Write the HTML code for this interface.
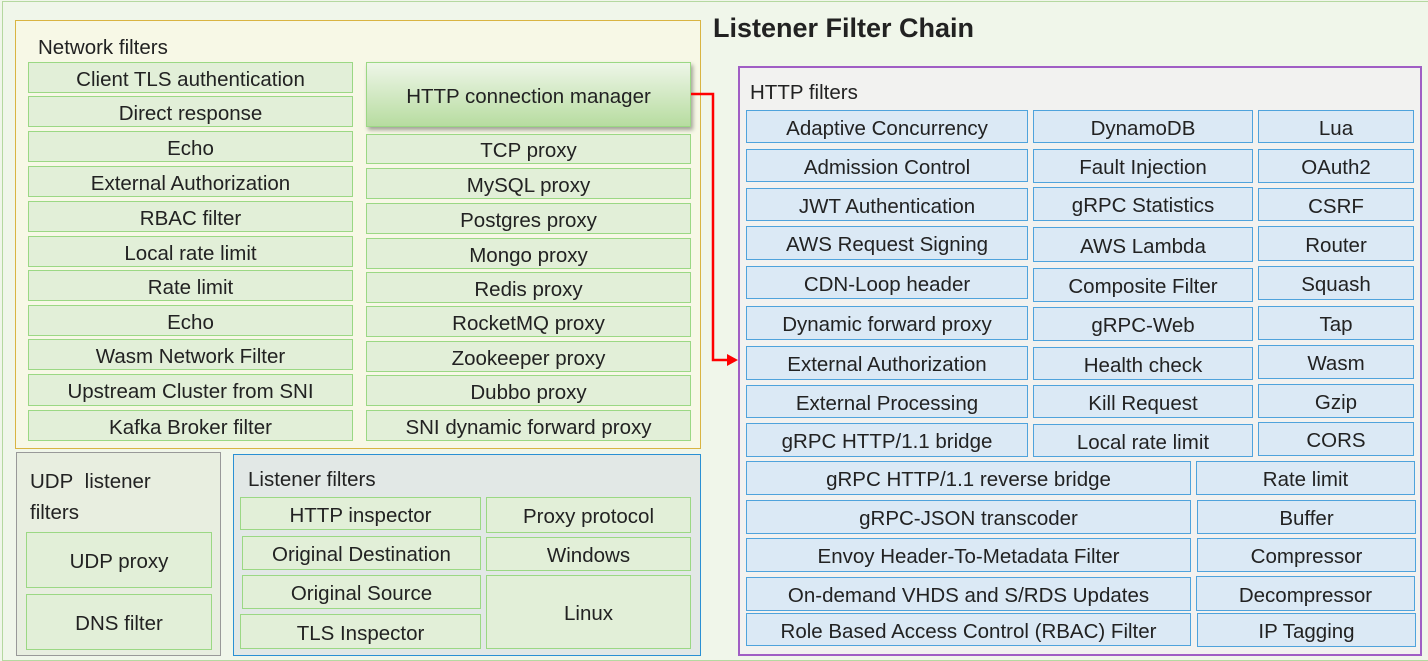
<!DOCTYPE html>
<html><head><meta charset="utf-8"><style>
*{margin:0;padding:0;box-sizing:border-box}
body{width:1428px;height:658px;background:#f0f6ea;position:relative;overflow:hidden;font-family:"Liberation Sans",sans-serif;color:#222}
.frame{position:absolute;left:2px;top:1px;width:1430px;height:660px;border:1px solid #b5d8a0}
.c{position:absolute}
.g{position:absolute;background:#e2efd8;border:1.5px solid #9bd884;display:flex;align-items:center;justify-content:center;font-size:20.5px;white-space:nowrap;padding-top:4px}
.b{position:absolute;background:#dbe9f5;border:1.5px solid #4fa3dc;display:flex;align-items:center;justify-content:center;font-size:20.5px;white-space:nowrap;padding-top:4px}
.lbl{position:absolute;font-size:20.5px;white-space:nowrap}
</style></head><body>
<div class="frame"></div>
<div class="c" style="left:15px;top:20px;width:686px;height:429px;border:1.5px solid #d9b442;background:#f7f8e6"></div>
<div class="lbl" style="left:38px;top:36px">Network filters</div>
<div class="lbl" style="left:713px;top:13px;font-size:27px;font-weight:bold">Listener Filter Chain</div>

<div class="g" style="left:28px;top:62px;width:325px;height:31px">Client TLS authentication</div>
<div class="g" style="left:28px;top:96px;width:325px;height:31px">Direct response</div>
<div class="g" style="left:28px;top:131px;width:325px;height:31px">Echo</div>
<div class="g" style="left:28px;top:166px;width:325px;height:31px">External Authorization</div>
<div class="g" style="left:28px;top:201px;width:325px;height:31px">RBAC filter</div>
<div class="g" style="left:28px;top:236px;width:325px;height:31px">Local rate limit</div>
<div class="g" style="left:28px;top:270px;width:325px;height:31px">Rate limit</div>
<div class="g" style="left:28px;top:305px;width:325px;height:31px">Echo</div>
<div class="g" style="left:28px;top:339px;width:325px;height:31px">Wasm Network Filter</div>
<div class="g" style="left:28px;top:374px;width:325px;height:32px">Upstream Cluster from SNI</div>
<div class="g" style="left:28px;top:410px;width:325px;height:31px">Kafka Broker filter</div>

<div class="g" style="left:366px;top:62px;width:325px;height:65px;background:linear-gradient(#eef6e8,#b7dca0);box-shadow:2px 3px 4px rgba(0,0,0,.35)">HTTP connection manager</div>
<div class="g" style="left:366px;top:134px;width:325px;height:30px">TCP proxy</div>
<div class="g" style="left:366px;top:168px;width:325px;height:31px">MySQL proxy</div>
<div class="g" style="left:366px;top:203px;width:325px;height:31px">Postgres proxy</div>
<div class="g" style="left:366px;top:238px;width:325px;height:31px">Mongo proxy</div>
<div class="g" style="left:366px;top:272px;width:325px;height:31px">Redis proxy</div>
<div class="g" style="left:366px;top:306px;width:325px;height:31px">RocketMQ proxy</div>
<div class="g" style="left:366px;top:341px;width:325px;height:31px">Zookeeper proxy</div>
<div class="g" style="left:366px;top:375px;width:325px;height:31px">Dubbo proxy</div>
<div class="g" style="left:366px;top:410px;width:325px;height:31px">SNI dynamic forward proxy</div>

<div class="c" style="left:16px;top:452px;width:205px;height:204px;border:1.5px solid #999;background:#e8eee0"></div>
<div class="lbl" style="left:30px;top:466px;line-height:31px">UDP&nbsp; listener<br>filters</div>
<div class="g" style="left:26px;top:532px;width:186px;height:56px">UDP proxy</div>
<div class="g" style="left:26px;top:594px;width:186px;height:56px">DNS filter</div>

<div class="c" style="left:233px;top:454px;width:468px;height:202px;border:1.5px solid #2a90d4;background:#e2e8e6"></div>
<div class="lbl" style="left:248px;top:468px">Listener filters</div>
<div class="g" style="left:240px;top:497px;width:241px;height:33px">HTTP inspector</div>
<div class="g" style="left:242px;top:536px;width:239px;height:34px">Original Destination</div>
<div class="g" style="left:242px;top:575px;width:239px;height:34px">Original Source</div>
<div class="g" style="left:240px;top:614px;width:241px;height:35px">TLS Inspector</div>
<div class="g" style="left:486px;top:497px;width:205px;height:36px">Proxy protocol</div>
<div class="g" style="left:486px;top:537px;width:205px;height:34px">Windows</div>
<div class="g" style="left:486px;top:575px;width:205px;height:74px">Linux</div>

<div class="c" style="left:738px;top:66px;width:684px;height:590px;border:2px solid #a05ec4;background:#f2f2f0"></div>
<div class="lbl" style="left:750px;top:81px">HTTP filters</div>

<div class="b" style="left:746px;top:110px;width:282px;height:33px">Adaptive Concurrency</div>
<div class="b" style="left:746px;top:149px;width:282px;height:33px">Admission Control</div>
<div class="b" style="left:746px;top:188px;width:282px;height:33px">JWT Authentication</div>
<div class="b" style="left:746px;top:226px;width:282px;height:34px">AWS Request Signing</div>
<div class="b" style="left:746px;top:266px;width:282px;height:33px">CDN-Loop header</div>
<div class="b" style="left:746px;top:306px;width:282px;height:34px">Dynamic forward proxy</div>
<div class="b" style="left:746px;top:346px;width:282px;height:34px">External Authorization</div>
<div class="b" style="left:746px;top:385px;width:282px;height:33px">External Processing</div>
<div class="b" style="left:746px;top:423px;width:282px;height:34px">gRPC HTTP/1.1 bridge</div>

<div class="b" style="left:1033px;top:110px;width:220px;height:33px">DynamoDB</div>
<div class="b" style="left:1033px;top:149px;width:220px;height:34px">Fault Injection</div>
<div class="b" style="left:1033px;top:187px;width:220px;height:34px">gRPC Statistics</div>
<div class="b" style="left:1033px;top:227px;width:220px;height:35px">AWS Lambda</div>
<div class="b" style="left:1033px;top:268px;width:220px;height:34px">Composite Filter</div>
<div class="b" style="left:1033px;top:307px;width:220px;height:34px">gRPC-Web</div>
<div class="b" style="left:1033px;top:347px;width:220px;height:33px">Health check</div>
<div class="b" style="left:1033px;top:385px;width:220px;height:33px">Kill Request</div>
<div class="b" style="left:1033px;top:424px;width:220px;height:33px">Local rate limit</div>

<div class="b" style="left:1258px;top:110px;width:156px;height:33px">Lua</div>
<div class="b" style="left:1258px;top:149px;width:156px;height:34px">OAuth2</div>
<div class="b" style="left:1258px;top:188px;width:156px;height:33px">CSRF</div>
<div class="b" style="left:1258px;top:226px;width:156px;height:35px">Router</div>
<div class="b" style="left:1258px;top:266px;width:156px;height:34px">Squash</div>
<div class="b" style="left:1258px;top:306px;width:156px;height:34px">Tap</div>
<div class="b" style="left:1258px;top:345px;width:156px;height:34px">Wasm</div>
<div class="b" style="left:1258px;top:384px;width:156px;height:34px">Gzip</div>
<div class="b" style="left:1258px;top:422px;width:156px;height:34px">CORS</div>

<div class="b" style="left:746px;top:461px;width:445px;height:34px">gRPC HTTP/1.1 reverse bridge</div>
<div class="b" style="left:746px;top:500px;width:445px;height:34px">gRPC-JSON transcoder</div>
<div class="b" style="left:746px;top:538px;width:445px;height:34px">Envoy Header-To-Metadata Filter</div>
<div class="b" style="left:746px;top:577px;width:445px;height:34px">On-demand VHDS and S/RDS Updates</div>
<div class="b" style="left:746px;top:613px;width:445px;height:33px">Role Based Access Control (RBAC) Filter</div>
<div class="b" style="left:1196px;top:461px;width:219px;height:34px">Rate limit</div>
<div class="b" style="left:1197px;top:500px;width:219px;height:34px">Buffer</div>
<div class="b" style="left:1197px;top:538px;width:219px;height:34px">Compressor</div>
<div class="b" style="left:1196px;top:576px;width:219px;height:35px">Decompressor</div>
<div class="b" style="left:1197px;top:613px;width:219px;height:34px">IP Tagging</div>

<svg class="c" style="left:0;top:0" width="1428" height="658">
<polyline points="691,94 713,94 713,360 728,360" fill="none" stroke="#f00" stroke-width="2.5"/>
<polygon points="738,360 727,354 727,366" fill="#f00"/>
</svg>
</body></html>
